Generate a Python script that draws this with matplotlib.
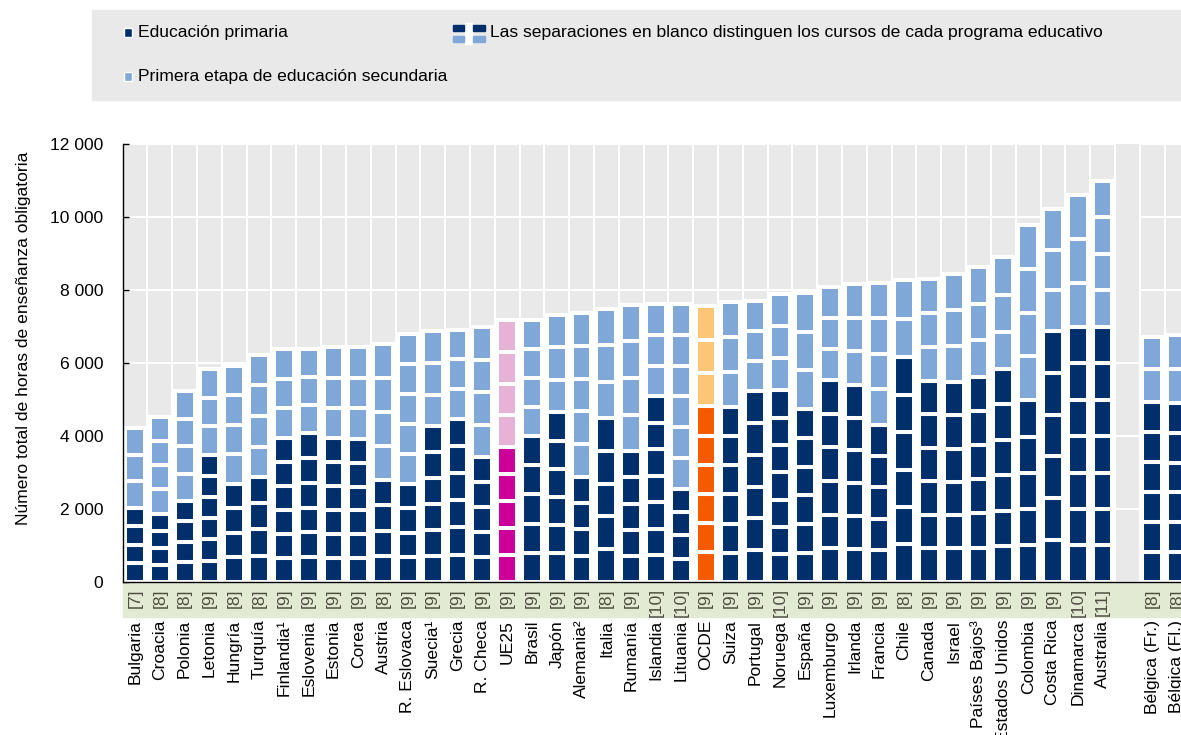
import matplotlib
matplotlib.use("Agg")
import matplotlib.pyplot as plt
import matplotlib.patches as mpatches
import matplotlib.transforms as mtrans

plt.rcParams['font.family'] = ['Liberation Sans', 'DejaVu Sans']

# Compulsory instruction time, hours (empty entry separates Belgium)
countries = ["Bulgaria", "Croacia", "Polonia", "Letonia", "Hungría", "Turquía",
             "Finlandia¹", "Eslovenia", "Estonia", "Corea", "Austria", "R. Eslovaca",
             "Suecia¹", "Grecia", "R. Checa", "UE25", "Brasil", "Japón", "Alemania²",
             "Italia", "Rumanía", "Islandia", "Lituania", "OCDE", "Suiza", "Portugal",
             "Noruega", "España", "Luxemburgo", "Irlanda", "Francia", "Chile", "Canada",
             "Israel", "Países Bajos³", "Estados Unidos", "Colombia", "Costa Rica",
             "Dinamarca", "Australia", "", "Bélgica (Fr.)", "Bélgica (Fl.)"]
primary_hours = [2020, 1865, 2205, 3485, 2680, 2865, 3945, 4070, 3945, 3915, 2800, 2690,
                 4260, 4465, 3415, 3685, 3990, 4645, 2870, 4490, 3575, 5085, 2545, 4810,
                 4785, 5220, 5250, 4740, 5525, 5405, 4310, 6155, 5515, 5480, 5615, 5835,
                 4975, 6870, 6990, 6990, 0, 4930, 4905]
lower_sec_hours = [2195, 2660, 3015, 2340, 3240, 3365, 2440, 2315, 2485, 2525, 3730, 4115,
                   2625, 2450, 3565, 3505, 3200, 2680, 4500, 2990, 4025, 2535, 5075, 2745,
                   2890, 2470, 2650, 3180, 2550, 2760, 3885, 2130, 2790, 2960, 3020, 3065,
                   4820, 3365, 3610, 4015, 0, 1785, 1870]
primary_grades = [4, 4, 4, 6, 4, 4, 6, 6, 6, 6, 4, 4, 6, 6, 5, 5, 5, 6, 4, 5, 5, 7, 4, 6,
                  6, 6, 7, 6, 6, 6, 5, 6, 6, 6, 6, 6, 5, 6, 7, 7, 0, 6, 6]
lower_sec_grades = [3, 4, 4, 3, 4, 4, 3, 3, 3, 3, 4, 5, 3, 3, 4, 4, 4, 3, 5, 3, 4, 3, 6, 3,
                    3, 3, 3, 3, 3, 3, 4, 2, 3, 3, 3, 3, 4, 3, 3, 4, 0, 2, 2]

W, H = 1181, 735
FS = 12.6
BG = "#e9e9e9"
NAVY, LIGHT = "#002f6c", "#7fa7d8"
colors = {"UE25": ("#cc0099", "#e6b2d6"), "OCDE": ("#f55a00", "#fdc576")}

fig = plt.figure(figsize=(W / 100, H / 100), dpi=100)
ax = fig.add_axes([122.6 / W, 1 - 581.7 / H, 1066.8 / W, 437.4 / H])
ax.set_facecolor(BG)

x = list(range(len(countries)))
for i, name in enumerate(countries):
    dark, light = colors.get(name, (NAVY, LIGHT))
    bottom = 0
    for n, hours, col in [(primary_grades[i], primary_hours[i], dark),
                          (lower_sec_grades[i], lower_sec_hours[i], light)]:
        for _ in range(n):
            ax.bar(x[i], hours / n, bottom=bottom, width=0.8, color=col,
                   edgecolor="white", linewidth=2.9, zorder=3)
            bottom += hours / n

ax.yaxis.grid(True, color="white", lw=1.4, zorder=1)
ax.set_axisbelow(True)
# the empty column shows no gridlines above 6 000
gap = countries.index("")
ax.add_patch(mpatches.Rectangle((gap - 0.5, 6400), 1, 6000, color=BG, lw=0, zorder=1.5))
for xv in range(len(countries) + 1):
    ax.axvline(xv - 0.5, color="white", lw=1.4, zorder=2)

ax.set_xlim(-0.5, len(countries) - 0.5)
ax.set_ylim(0, 12000)
yt = list(range(0, 12001, 2000))
ax.set_yticks(yt)
ax.set_yticklabels([f"{v:,}".replace(",", " ") for v in yt], fontsize=FS)
ax.tick_params(axis="y", direction="in", length=4.3, pad=14, width=1)
ax.set_xticks(x)
ax.set_xticklabels(countries, rotation=90, fontsize=FS)
ax.tick_params(axis="x", length=0, pad=27.4)
for s in ["top", "right"]:
    ax.spines[s].set_visible(False)
for s in ["left", "bottom"]:
    ax.spines[s].set_color("black")
    ax.spines[s].set_linewidth(1)
    ax.spines[s].set_zorder(4)

# green band with number of years of compulsory schooling
band_h = (617 - 582) / 437.4
ax.add_patch(mpatches.Rectangle((0, -band_h - 0.001), 1, band_h, transform=ax.transAxes,
                                color="#e3ead3", clip_on=False, zorder=0))
tr = mtrans.blended_transform_factory(ax.transData, ax.transAxes)
for i, name in enumerate(countries):
    if not name:
        continue
    ax.text(x[i], -(588 - 581.7) / 437.4, f"[{primary_grades[i] + lower_sec_grades[i]}]",
            transform=tr, rotation=90, ha="center", va="top", fontsize=FS,
            color="#4d4d40")

fig.text(24 / W, 1 - 338 / H, "Número total de horas de enseñanza obligatoria",
         rotation=90, ha="center", va="center", fontsize=FS)


def px_rect(x0, y0, x1, y1, **kw):
    fig.patches.append(mpatches.Rectangle((x0 / W, 1 - y1 / H), (x1 - x0) / W, (y1 - y0) / H,
                                          transform=fig.transFigure, **kw))


# legend
px_rect(92, 10, W, 100, color=BG, zorder=0)
px_rect(124, 28, 132, 37, facecolor=NAVY, edgecolor="white", lw=1)
px_rect(124, 72, 132, 81, facecolor=LIGHT, edgecolor="white", lw=1)
px_rect(465, 23, 472, 44, color="white")
px_rect(453, 25, 464, 31, color=NAVY)
px_rect(473, 25, 485, 31, color=NAVY)
px_rect(453, 36, 464, 42, color=LIGHT)
px_rect(473, 36, 485, 42, color=LIGHT)
fig.text(138 / W, 1 - 32 / H, "Educación primaria", va="center", fontsize=FS)
fig.text(138 / W, 1 - 76 / H, "Primera etapa de educación secundaria", va="center", fontsize=FS)
fig.text(490 / W, 1 - 32 / H,
         "Las separaciones en blanco distinguen los cursos de cada programa educativo",
         va="center", fontsize=FS)

fig.savefig("out.png", dpi=100)
